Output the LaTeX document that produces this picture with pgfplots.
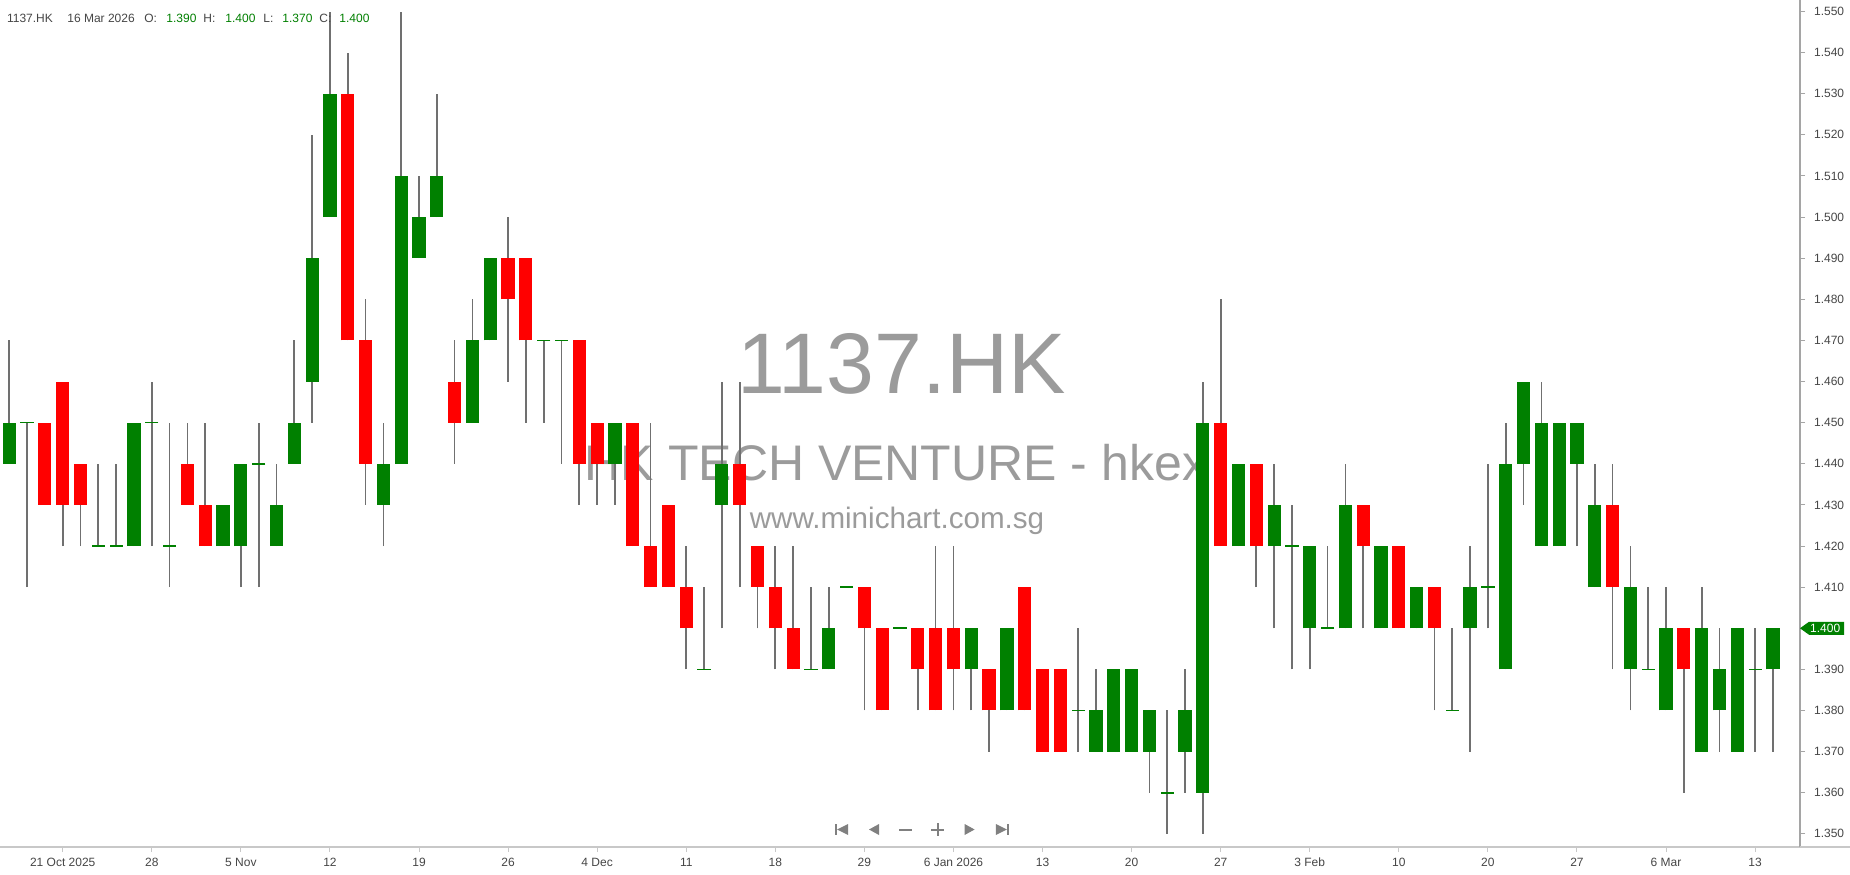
\documentclass[border=0pt]{standalone}
\usepackage{fontspec}
\setmainfont{Liberation Sans}
\usepackage{pgfplots}
\pgfplotsset{compat=1.18}
\usepackage{pgfplotstable}

\definecolor{candgreen}{RGB}{0,128,0}
\definecolor{candred}{RGB}{255,0,0}
\definecolor{wickgray}{RGB}{112,112,112}
\definecolor{yaxisgray}{RGB}{165,165,165}
\definecolor{xaxisgray}{RGB}{200,200,200}
\definecolor{labelgray}{RGB}{70,70,70}
\definecolor{wmgray}{RGB}{155,155,155}
\definecolor{navgray}{RGB}{128,128,128}

\pgfplotstableread{
i O H L C
0 1.44 1.47 1.44 1.45
1 1.45 1.45 1.41 1.45
2 1.45 1.45 1.43 1.43
3 1.46 1.46 1.42 1.43
4 1.44 1.44 1.42 1.43
5 1.42 1.44 1.42 1.42
6 1.42 1.44 1.42 1.42
7 1.42 1.45 1.42 1.45
8 1.45 1.46 1.42 1.45
9 1.42 1.45 1.41 1.42
10 1.44 1.45 1.43 1.43
11 1.43 1.45 1.42 1.42
12 1.42 1.43 1.42 1.43
13 1.42 1.44 1.41 1.44
14 1.44 1.45 1.41 1.44
15 1.42 1.44 1.42 1.43
16 1.44 1.47 1.44 1.45
17 1.46 1.52 1.45 1.49
18 1.50 1.55 1.50 1.53
19 1.53 1.54 1.47 1.47
20 1.47 1.48 1.43 1.44
21 1.43 1.45 1.42 1.44
22 1.44 1.55 1.44 1.51
23 1.49 1.51 1.49 1.50
24 1.50 1.53 1.50 1.51
25 1.46 1.47 1.44 1.45
26 1.45 1.48 1.45 1.47
27 1.47 1.49 1.47 1.49
28 1.49 1.50 1.46 1.48
29 1.49 1.49 1.45 1.47
30 1.47 1.47 1.45 1.47
31 1.47 1.47 1.44 1.47
32 1.47 1.47 1.43 1.44
33 1.45 1.45 1.43 1.44
34 1.44 1.45 1.43 1.45
35 1.45 1.45 1.42 1.42
36 1.42 1.45 1.41 1.41
37 1.43 1.43 1.41 1.41
38 1.41 1.42 1.39 1.40
39 1.39 1.41 1.39 1.39
40 1.43 1.46 1.40 1.44
41 1.44 1.46 1.41 1.43
42 1.42 1.42 1.40 1.41
43 1.41 1.42 1.39 1.40
44 1.40 1.42 1.39 1.39
45 1.39 1.41 1.39 1.39
46 1.39 1.41 1.39 1.40
47 1.41 1.41 1.41 1.41
48 1.41 1.41 1.38 1.40
49 1.40 1.40 1.38 1.38
50 1.40 1.40 1.40 1.40
51 1.40 1.40 1.38 1.39
52 1.40 1.42 1.38 1.38
53 1.40 1.42 1.38 1.39
54 1.39 1.40 1.38 1.40
55 1.39 1.39 1.37 1.38
56 1.38 1.40 1.38 1.40
57 1.41 1.41 1.38 1.38
58 1.39 1.39 1.37 1.37
59 1.39 1.39 1.37 1.37
60 1.38 1.40 1.37 1.38
61 1.37 1.39 1.37 1.38
62 1.37 1.39 1.37 1.39
63 1.37 1.39 1.37 1.39
64 1.37 1.38 1.36 1.38
65 1.36 1.38 1.35 1.36
66 1.37 1.39 1.36 1.38
67 1.36 1.46 1.35 1.45
68 1.45 1.48 1.42 1.42
69 1.42 1.44 1.42 1.44
70 1.44 1.44 1.41 1.42
71 1.42 1.44 1.40 1.43
72 1.42 1.43 1.39 1.42
73 1.40 1.42 1.39 1.42
74 1.40 1.42 1.40 1.40
75 1.40 1.44 1.40 1.43
76 1.43 1.43 1.40 1.42
77 1.40 1.42 1.40 1.42
78 1.42 1.42 1.40 1.40
79 1.40 1.41 1.40 1.41
80 1.41 1.41 1.38 1.40
81 1.38 1.40 1.38 1.38
82 1.40 1.42 1.37 1.41
83 1.41 1.44 1.40 1.41
84 1.39 1.45 1.39 1.44
85 1.44 1.46 1.43 1.46
86 1.42 1.46 1.42 1.45
87 1.42 1.45 1.42 1.45
88 1.44 1.45 1.42 1.45
89 1.41 1.44 1.41 1.43
90 1.43 1.44 1.39 1.41
91 1.39 1.42 1.38 1.41
92 1.39 1.41 1.39 1.39
93 1.38 1.41 1.38 1.40
94 1.40 1.40 1.36 1.39
95 1.37 1.41 1.37 1.40
96 1.38 1.40 1.37 1.39
97 1.37 1.40 1.37 1.40
98 1.39 1.40 1.37 1.39
99 1.39 1.40 1.37 1.40
}\ohlc

\begin{document}
\begin{tikzpicture}[x=1pt,y=1pt]
\fill[white] (0,0) rectangle (925,437);
% watermark (behind the candles)
\node[font=\fontsize{43}{43}\selectfont, text=wmgray, inner sep=0] at (450.75,255) {1137.HK};
\node[font=\fontsize{25}{25}\selectfont, text=wmgray, inner sep=0] at (448,205.75) {HK TECH VENTURE - hkex};
\node[font=\fontsize{14.8}{15}\selectfont, text=wmgray, inner sep=0, anchor=base] at (448.5,172.7) {www.minichart.com.sg};

\begin{axis}[
  at={(0pt,13.5pt)}, anchor=south west,
  scale only axis, width=900pt, height=423.5pt,
  xmin=-0.52, xmax=100.52, ymin=1.3468, ymax=1.5528,
  axis x line*=bottom, axis y line*=right, separate axis lines,
  x axis line style={-, draw=xaxisgray, line width=0.6pt},
  y axis line style={-, draw=yaxisgray, line width=0.6pt},
  xtick={3,8,...,98},
  xticklabels={21 Oct 2025,28,5 Nov,12,19,26,4 Dec,11,18,29,6 Jan 2026,13,20,27,3 Feb,10,20,27,6 Mar,13},
  ytick={1.35,1.36,1.37,1.38,1.39,1.41,1.42,1.43,1.44,1.45,1.46,1.47,1.48,1.49,1.50,1.51,1.52,1.53,1.54,1.55},
  tick align=outside, major tick length=2.5pt,
  x tick style={draw=xaxisgray, line width=0.5pt},
  y tick style={draw=yaxisgray, line width=0.5pt},
  ticklabel style={font=\fontsize{6}{7}\selectfont, text=labelgray},
  yticklabel style={/pgf/number format/fixed, /pgf/number format/fixed zerofill, /pgf/number format/precision=3, /pgf/number format/assume math mode=true, xshift=1pt},
  xticklabel style={yshift=0.5pt},
]
% wicks
\addplot[draw=none, mark=none, error bars/.cd, y dir=plus, y explicit, error mark=none,
  error bar style={draw=wickgray, line width=0.85pt}]
  table[x=i, y=L, y error plus expr=\thisrow{H}-\thisrow{L}] {\ohlc};
% rising bodies
\addplot[draw=none, mark=none, restrict expr to domain={\thisrow{C}-\thisrow{O}}{0.005:1},
  error bars/.cd, y dir=plus, y explicit, error mark=none,
  error bar style={draw=candgreen, line width=6.6pt}]
  table[x=i, y=O, y error plus expr=\thisrow{C}-\thisrow{O}] {\ohlc};
% falling bodies
\addplot[draw=none, mark=none, restrict expr to domain={\thisrow{O}-\thisrow{C}}{0.005:1},
  error bars/.cd, y dir=plus, y explicit, error mark=none,
  error bar style={draw=candred, line width=6.6pt}]
  table[x=i, y=C, y error plus expr=\thisrow{O}-\thisrow{C}] {\ohlc};
% doji
\addplot[only marks, mark=-, mark size=3.3pt, mark options={draw=candgreen, line width=0.8pt},
  restrict expr to domain={\thisrow{C}-\thisrow{O}}{-0.005:0.005}]
  table[x=i, y=C] {\ohlc};
\coordinate (tagpt) at (axis cs:100.52,1.40);
\end{axis}

% last price tag
\fill[candgreen] (tagpt) -- ++(4.5,3.25) -- ++(17.5,0) -- ++(0,-6.5) -- ++(-17.5,0) -- cycle;
\node[text=white, font=\fontsize{6}{7}\selectfont, inner sep=0] at ([xshift=12.6pt]tagpt) {1.400};

% bottom line extension
\draw[xaxisgray, line width=0.6pt] (900,13.5) -- (925,13.5);

% header
\begin{scope}[every node/.style={anchor=base west, inner sep=0, font=\fontsize{6}{7}\selectfont}]
\node[text=labelgray] at (3.35,425.8) {1137.HK};
\node[text=labelgray] at (33.5,425.8) {16 Mar 2026};
\node[text=labelgray] at (72,425.8) {O:};
\node[text=candgreen] at (83,425.8) {1.390};
\node[text=labelgray] at (101.5,425.8) {H:};
\node[text=candgreen] at (112.5,425.8) {1.400};
\node[text=labelgray] at (131.5,425.8) {L:};
\node[text=candgreen] at (141,425.8) {1.370};
\node[text=labelgray] at (159.5,425.8) {C:};
\node[text=candgreen] at (169.5,425.8) {1.400};
\end{scope}

% navigation icons
\begin{scope}[navgray]
\fill[shift={(420.8,22.25)}] (-3.25,-2.75) rectangle (-2.25,2.75);
\fill[shift={(420.8,22.25)}] (-2.25,0) -- (3.25,2.75) -- (3.25,-2.75) -- cycle;
\fill[shift={(437,22.25)}] (-2.5,0) -- (2.5,2.75) -- (2.5,-2.75) -- cycle;
\fill[shift={(452.8,22.25)}] (-3.25,-0.5) rectangle (3.25,0.5);
\fill[shift={(468.8,22.25)}] (-3.25,-0.5) rectangle (3.25,0.5);
\fill[shift={(468.8,22.25)}] (-0.5,-3.25) rectangle (0.5,3.25);
\fill[shift={(484.8,22.25)}] (2.5,0) -- (-2.5,2.75) -- (-2.5,-2.75) -- cycle;
\fill[shift={(501.2,22.25)}] (2.25,-2.75) rectangle (3.25,2.75);
\fill[shift={(501.2,22.25)}] (2.25,0) -- (-3.25,2.75) -- (-3.25,-2.75) -- cycle;
\end{scope}

\pgfresetboundingbox
\useasboundingbox (0,0) rectangle (925,437);
\end{tikzpicture}
\end{document}
